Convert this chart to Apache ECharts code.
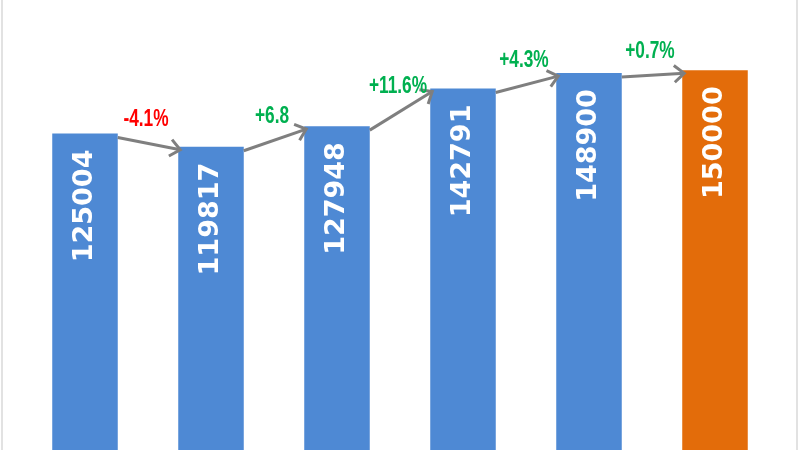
<!DOCTYPE html>
<html>
<head>
<meta charset="utf-8">
<script src="https://cdn.jsdelivr.net/npm/echarts@6/dist/echarts.min.js"></script>
<style>
  html, body { margin: 0; padding: 0; background: #fff; }
  #chart { width: 800px; height: 450px; }
</style>
</head>
<body>
<div id="chart"></div>
<script>
// values
var categories = ["1", "2", "3", "4", "5", "6"];
var values = [125004, 119817, 127948, 142791, 148900, 150000];
// change labels as written on the chart
var changeLabels = ["-4.1%", "+6.8", "+11.6%", "+4.3%", "+0.7%"];

var chart = echarts.init(document.getElementById("chart"), null, { renderer: "canvas" });

var blue = "#4e89d4",
	orange = "#e36c0a",
	arrowGray = "#7f7f7f";

// one item per arrow: [from index, from value, to value, label]
var arrowData = [];
for (var i = 0; i < changeLabels.length; i++) {
	arrowData.push([i, values[i], values[i + 1], changeLabels[i]]);
}

function renderArrow(params, api) {
	var idx = api.value(0);
	var p0 = api.coord([idx, api.value(1)]);
	var p1 = api.coord([idx + 1, api.value(2)]);
	var half = api.size([1, 0])[0] * 0.26;
	var x0 = p0[0] + half, y0 = p0[1] + 4;
	var x1 = p1[0] - half + 2, y1 = p1[1] + 3;
	var a = Math.atan2(y1 - y0, x1 - x0);
	var L = 13, s = 0.7;
	var label = arrowData[params.dataIndex][3];
	var color = label.charAt(0) === "-" ? "#ff0000" : "#00b050";
	return {
		type: "group",
		children: [
			{
				type: "line",
				shape: { x1: x0, y1: y0, x2: x1, y2: y1 },
				style: { stroke: arrowGray, lineWidth: 3 }
			},
			{
				type: "polyline",
				shape: {
					points: [
						[x1 - L * Math.cos(a - s), y1 - L * Math.sin(a - s)],
						[x1, y1],
						[x1 - L * Math.cos(a + s), y1 - L * Math.sin(a + s)]
					]
				},
				style: { stroke: arrowGray, lineWidth: 3, fill: null }
			},
			{
				// narrow bold text, squeezed horizontally
				type: "text",
				x: (x0 + x1) / 2 - 3,
				y: (y0 + y1) / 2 - 24,
				scaleX: 0.72,
				style: {
					text: label,
					x: 0,
					y: 0,
					fill: color,
					fontSize: 24,
					fontWeight: "bold",
					fontFamily: "'Liberation Sans', Arial, sans-serif",
					align: "center",
					verticalAlign: "middle"
				}
			}
		]
	};
}

var option = {
	animation: false,
	grid: {
		left: 22,
		right: 22,
		top: 45,
		bottom: 0
	},
	xAxis: {
		type: "category",
		data: categories,
		show: false
	},
	yAxis: {
		type: "value",
		min: 0,
		max: 160000,
		show: false
	},
	graphic: [
		{
			type: "rect",
			shape: { x: 2, y: -5, width: 795, height: 460 },
			style: { stroke: "#d9d9d9", lineWidth: 1.5, fill: null },
			silent: true
		}
	],
	series: [
		{
			type: "bar",
			barWidth: "52%",
			data: values.map(function (v, i) {
				return {
					value: v,
					itemStyle: { color: i === values.length - 1 ? orange : blue }
				};
			}),
			label: {
				show: true,
				position: "insideTop",
				rotate: 90,
				align: "right",
				verticalAlign: "middle",
				distance: 16,
				color: "#fff",
				fontSize: 27,
				fontWeight: "bold",
				fontFamily: "'DejaVu Sans', sans-serif"
			}
		},
		{
			type: "custom",
			renderItem: renderArrow,
			data: arrowData,
			encode: { x: 0, y: 1 },
			z: 5,
			silent: true
		}
	]
};
chart.setOption(option);
</script>
</body>
</html>
